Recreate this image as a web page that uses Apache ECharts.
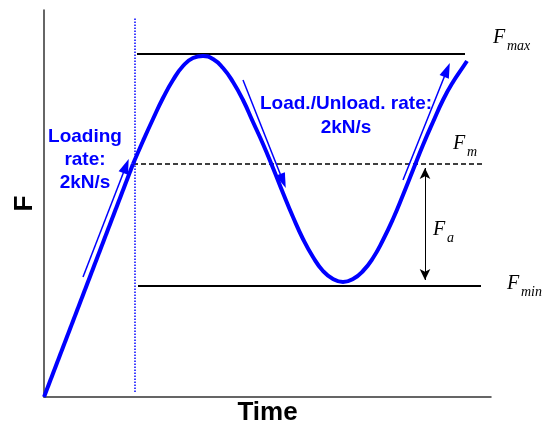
<!DOCTYPE html>
<html>
<head>
<meta charset="utf-8">
<script src="https://cdn.jsdelivr.net/npm/echarts@6/dist/echarts.min.js"></script>
<style>
html,body{margin:0;padding:0;background:#fff;}
#chart{width:548px;height:425px;}
</style>
</head>
<body>
<div id="chart"></div>
<script>
// Loading ramp (time, force) in chart units
var rampX = [0, 89];
var rampY = [0, 233];
// Cyclic part
var waveX = [89, 99, 109, 119, 129, 139, 149, 159, 169, 179, 189, 199, 209, 219, 229, 239, 249, 259, 269, 279, 289, 299, 309, 319, 329, 339, 349, 359, 369, 379, 389, 399, 409, 419, 423];
var waveY = [233, 256, 278, 299, 317, 331, 339, 341, 338, 329, 315, 297, 275, 253, 229, 204, 180, 158, 140, 126, 118, 115, 118, 126, 139, 157, 178, 202, 227, 252, 275, 297, 315, 330, 336];
// Reference levels
var fmaxLevel = 343, fmaxFrom = 93, fmaxTo = 421;
var fmLevel = 233, fmFrom = 89, fmTo = 439;
var fminLevel = 111, fminFrom = 94, fminTo = 437;
// Vertical dotted marker
var markerX = 91, markerYFrom = 5, markerYTo = 380;
// Rate arrows [x1,y1,x2,y2]
var loadArrow = [39, 120, 82, 231];
var downArrow = [199, 317, 239, 216];
var upArrow = [359, 217, 403, 327];
// Amplitude arrow
var ampArrow = [381, 229, 381, 117];

function pairs(xs, ys){ return xs.map(function(x,i){ return [x, ys[i]]; }); }
function seg(a){ return [{coord:[a[0],a[1]]},{coord:[a[2],a[3]]}]; }

var chart = echarts.init(document.getElementById('chart'), null, {renderer:'canvas'});
var serifIt = 'italic 20px "Liberation Serif", "DejaVu Serif", serif';
var subIt = 'italic 14px "Liberation Serif", "DejaVu Serif", serif';
function mathLabel(F, sub, fx, fy, sx, sy){
  return [
    {type:'text', x:fx, y:fy, style:{text:F, font:serifIt, fill:'#000', textVerticalAlign:'middle'}},
    {type:'text', x:sx, y:sy, style:{text:sub, font:subIt, fill:'#000', textVerticalAlign:'middle'}}
  ];
}
var graphics = [
  {type:'text', x:85, y:160, style:{text:'Loading\nrate:\n2kN/s', font:'bold 19px "Liberation Sans", Arial, sans-serif', fill:'#0000ff', textAlign:'center', textVerticalAlign:'middle', lineHeight:23}},
  {type:'text', x:346, y:116, style:{text:'Load./Unload. rate:\n2kN/s', font:'bold 19px "Liberation Sans", Arial, sans-serif', fill:'#0000ff', textAlign:'center', textVerticalAlign:'middle', lineHeight:24}}
];
graphics = graphics.concat(
  mathLabel('F','max', 493, 38, 507, 46),
  mathLabel('F','m', 453, 144, 467, 152),
  mathLabel('F','a', 433, 230, 447, 238),
  mathLabel('F','min', 507, 284, 521, 292)
);

var option = {
  animation:false,
  backgroundColor:'#fff',
  grid:{left:44, right:57, top:10, bottom:28, containLabel:false, outerBoundsMode:'none'},
  xAxis:{type:'value', min:0, max:447, splitLine:{show:false}, axisTick:{show:false}, axisLabel:{show:false},
    axisLine:{show:true, onZero:false, lineStyle:{color:'#333', width:1.5}},
    name:'Time', nameLocation:'middle', nameGap:3,
    nameTextStyle:{fontFamily:'"Liberation Sans", Arial, sans-serif', fontWeight:'bold', fontSize:26, color:'#000'}},
  yAxis:{type:'value', min:0, max:387, splitLine:{show:false}, axisTick:{show:false}, axisLabel:{show:false},
    axisLine:{show:true, onZero:false, lineStyle:{color:'#333', width:1.5}},
    name:'F', nameLocation:'middle', nameGap:6, nameRotate:90,
    nameTextStyle:{fontFamily:'"Liberation Sans", Arial, sans-serif', fontWeight:'bold', fontSize:26, color:'#000'}},
  graphic: graphics,
  series:[
    {type:'line', data:pairs(rampX, rampY), showSymbol:false, lineStyle:{color:'#0000ff', width:4}, z:5},
    {type:'line', data:pairs(waveX, waveY), smooth:true, showSymbol:false, lineStyle:{color:'#0000ff', width:4}, z:5},
    {type:'line', data:[[fmaxFrom,fmaxLevel],[fmaxTo,fmaxLevel]], showSymbol:false, lineStyle:{color:'#000', width:2}},
    {type:'line', data:[[fmFrom,fmLevel],[fmTo,fmLevel]], showSymbol:false, lineStyle:{color:'#000', width:1.5, type:[5,3]}},
    {type:'line', data:[[fminFrom,fminLevel],[fminTo,fminLevel]], showSymbol:false, lineStyle:{color:'#000', width:2}},
    {type:'line', data:[[markerX,markerYFrom],[markerX,markerYTo]], showSymbol:false, lineStyle:{color:'#0000ff', width:1.5, type:[1.5,1.5]}},
    {type:'line', data:[], silent:true,
      markLine:{silent:true, animation:false, symbol:['none','triangle'], symbolSize:[10,15], label:{show:false},
        lineStyle:{color:'#0000ff', width:1.5, type:'solid'},
        data:[seg(loadArrow), seg(downArrow), seg(upArrow)]}},
    {type:'line', data:[], silent:true,
      markLine:{silent:true, animation:false, symbol:['arrow','arrow'], symbolSize:[8,11], label:{show:false},
        lineStyle:{color:'#000', width:1, type:'solid'},
        data:[seg(ampArrow)]}}
  ]
};
chart.setOption(option);
</script>
</body>
</html>
